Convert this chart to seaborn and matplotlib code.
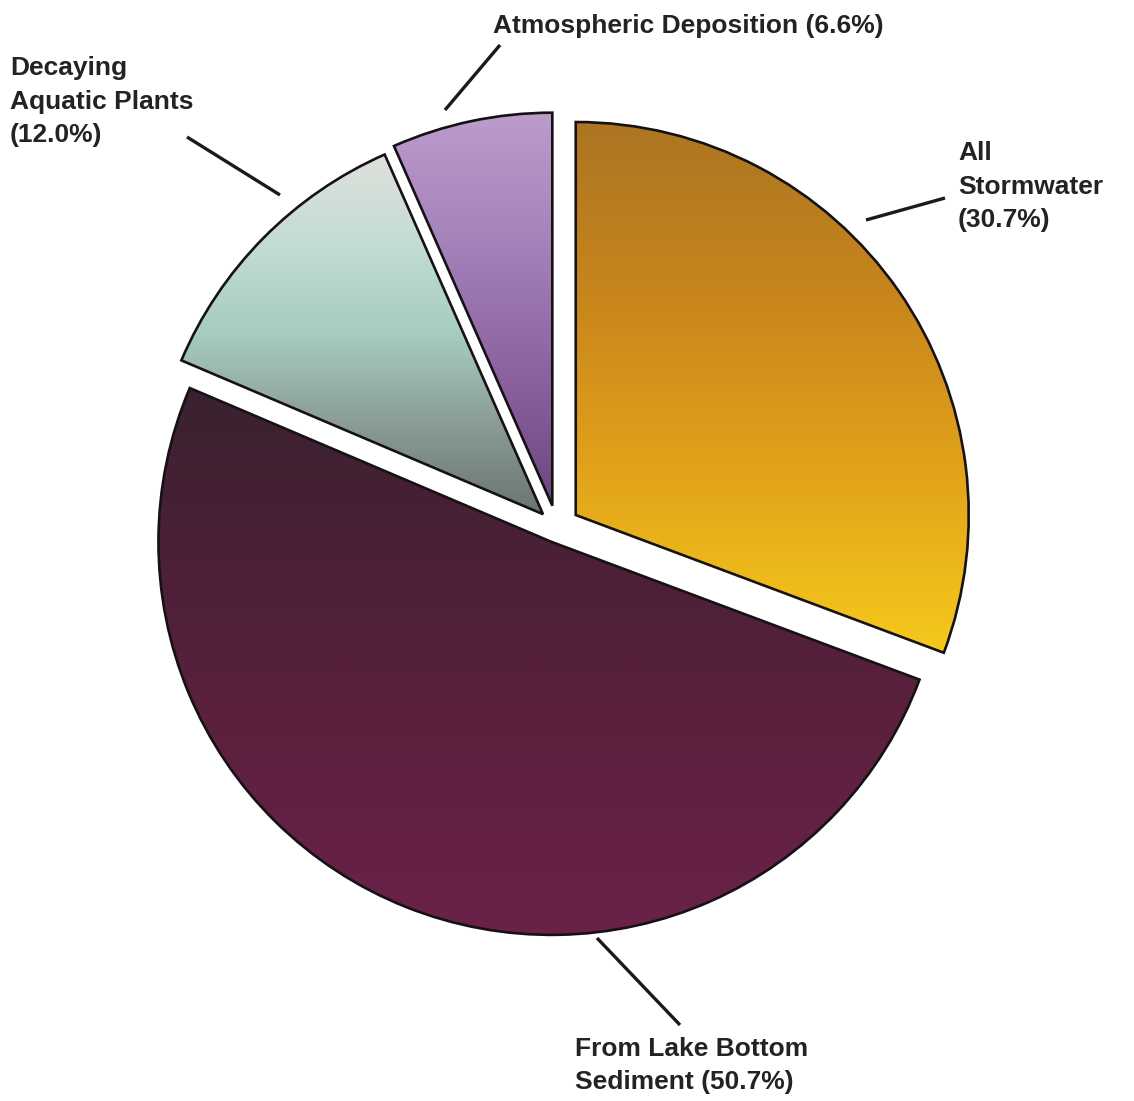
import numpy as np
import matplotlib
matplotlib.use("Agg")
import matplotlib.pyplot as plt
import seaborn as sns

# Phosphorus load by source (percent of total)
sources = ["All\nStormwater", "From Lake Bottom\nSediment", "Decaying\nAquatic Plants",
           "Atmospheric Deposition"]
shares = [30.7, 50.7, 12.0, 6.6]
explode = [0.058, 0.038, 0.05, 0.058]   # fraction of the radius

# Vertical colour ramps (top -> bottom) for each slice
ramps = [
    ["#ad7522", "#c8861c", "#e2a41a", "#f6c91c"],
    ["#3a2230", "#4d2038", "#5e2040", "#6a2249"],
    ["#dfe0dc", "#c3ddd3", "#a6ccc0", "#8a9c97", "#6a7573"],
    ["#bb9ccb", "#a482bb", "#8a62a0", "#6c4680"],
]

# Label placement (figure pixels, y measured from top) and leader segments
label_pos = [(958, 141), (575, 1037), (10, 56), (493, 14)]
leaders = [((866, 220), (945, 198)), ((597, 938), (680, 1025)),
           ((280, 195), (187, 137)), ((445, 110), (500, 45))]

W, H = 1134, 1101
R = 393
sns.set_theme(style="white")
plt.rcParams["font.family"] = ["Liberation Sans", "DejaVu Sans"]

fig = plt.figure(figsize=(W / 100, H / 100), dpi=100, facecolor="white")
ax = fig.add_axes([0, 0, 1, 1])

wedges, _ = ax.pie(shares, startangle=90, counterclock=False,
                   explode=[e * R for e in explode],
                   center=(557, H - 528), radius=R,
                   wedgeprops=dict(edgecolor="#161114", linewidth=1.9,
                                   facecolor="none", zorder=3))

for w, cols in zip(wedges, ramps):
    verts = w.get_path().vertices
    x0, x1 = verts[:, 0].min(), verts[:, 0].max()
    y0, y1 = verts[:, 1].min(), verts[:, 1].max()
    cmap = sns.blend_palette(cols, as_cmap=True)
    grad = np.linspace(0, 1, 256).reshape(-1, 1)
    im = ax.imshow(grad, cmap=cmap, extent=[x0, x1, y0, y1], origin="upper",
                   aspect="auto", interpolation="bilinear", zorder=2)
    im.set_clip_path(w)

for name, val, (tx, ty) in zip(sources, shares, label_pos):
    if "Sediment" in name or "\n" not in name:
        label = f"{name} ({val:.1f}%)"
    else:
        label = f"{name}\n({val:.1f}%)"
    ax.text(tx, H - ty, label, ha="left", va="top", fontsize=19,
            fontweight="bold", color="#232323", linespacing=1.5)

for (p0, p1) in leaders:
    ax.plot([p0[0], p1[0]], [H - p0[1], H - p1[1]], color="#1a1a1a",
            lw=2.4, solid_capstyle="butt", zorder=4)

ax.set_xlim(0, W)
ax.set_ylim(0, H)
ax.set_aspect("equal")
ax.axis("off")
fig.savefig("out.png", dpi=100, facecolor="white")
